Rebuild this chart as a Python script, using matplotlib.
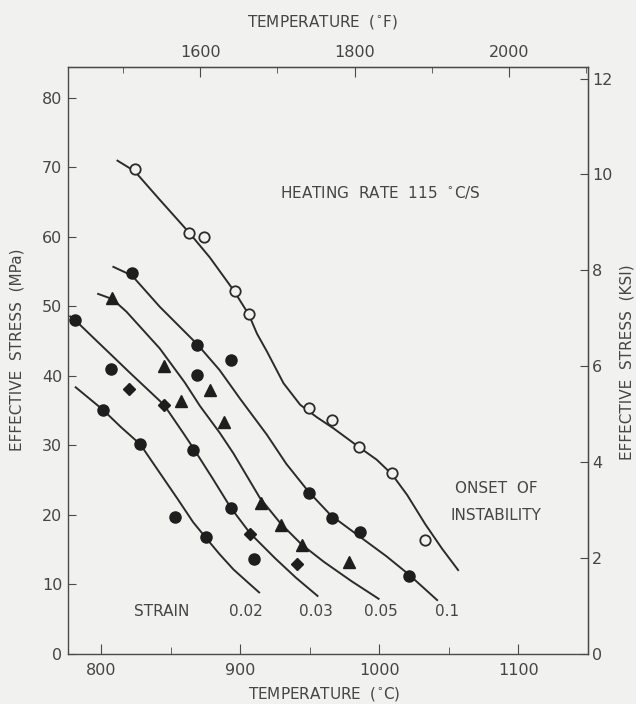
import numpy as np
import matplotlib
matplotlib.use("Agg")
import matplotlib.pyplot as plt

# fitted curves (temperature in C, effective stress in MPa)
onset_t = [811, 824, 842, 863, 878, 895, 906, 912, 919, 931, 943, 955, 967, 986, 998, 1009, 1020, 1033, 1045, 1057]
onset_s = [71.0, 69.4, 65.3, 60.6, 57.0, 52.3, 48.8, 46.0, 43.5, 38.9, 35.8, 34.0, 32.4, 29.6, 27.9, 25.8, 22.8, 18.6, 15.1, 11.9]

strain_01_t = [808, 822, 842, 869, 885, 900, 919, 933, 949, 965, 986, 1005, 1021, 1042]
strain_01_s = [55.7, 54.4, 49.9, 44.5, 40.8, 36.6, 31.5, 27.3, 23.3, 19.9, 16.8, 14.0, 11.4, 7.6]

strain_005_t = [797, 808, 818, 842, 860, 871, 885, 895, 914, 929, 944, 960, 980, 1000]
strain_005_s = [51.8, 51.0, 49.2, 43.9, 39.0, 35.6, 31.8, 28.8, 22.4, 18.7, 15.7, 13.2, 10.4, 7.8]

strain_003_t = [777, 781, 795, 807, 820, 845, 859, 866, 880, 893, 907, 925, 940, 956]
strain_003_s = [48.6, 48.0, 45.3, 43.0, 40.5, 35.8, 31.7, 29.6, 25.2, 21.0, 17.3, 13.7, 10.9, 8.2]

strain_002_t = [781, 801, 814, 828, 842, 855, 866, 875, 885, 895, 905, 914]
strain_002_s = [38.4, 35.1, 32.6, 30.1, 26.0, 22.2, 18.9, 16.7, 14.3, 12.1, 10.3, 8.7]

# measured points
open_t = [824, 863, 874, 896, 906, 949, 966, 985, 1009, 1033]
open_s = [69.7, 60.5, 59.9, 52.2, 48.9, 35.4, 33.6, 29.7, 26.0, 16.4]

dot_t = [781, 801, 807, 822, 828, 853, 866, 869, 869, 875, 893, 893, 910, 949, 966, 986, 1021]
dot_s = [48.0, 35.1, 41.0, 54.7, 30.1, 19.7, 29.3, 44.4, 40.1, 16.7, 20.9, 42.2, 13.6, 23.1, 19.5, 17.5, 11.2]

tri_t = [808, 845, 857, 878, 888, 915, 929, 944, 978]
tri_s = [51.1, 41.4, 36.3, 37.9, 33.3, 21.7, 18.5, 15.6, 13.2]

dia_t = [820, 845, 907, 941]
dia_s = [38.1, 35.8, 17.2, 12.9]

strain_labels = ["0.02", "0.03", "0.05", "0.1"]
strain_label_t = [904, 954, 1001, 1049]

ink = "#2b2b2b"
text_c = "#454545"
bg = "#f1f1ef"

plt.rcParams["font.family"] = ["DejaVu Sans"]
plt.rcParams["font.size"] = 11

fig = plt.figure(figsize=(6.36, 7.04), dpi=100, facecolor=bg)
ax = fig.add_axes([0.1069, 0.0717, 0.8176, 0.8331], facecolor=bg)

for t, s in [(onset_t, onset_s), (strain_01_t, strain_01_s), (strain_005_t, strain_005_s),
             (strain_003_t, strain_003_s), (strain_002_t, strain_002_s)]:
    ax.plot(t, s, color=ink, lw=1.4, solid_capstyle="butt", solid_joinstyle="round")

ax.plot(open_t, open_s, "o", ms=7.5, mfc=bg, mec=ink, mew=1.3, ls="none")
ax.plot(dot_t, dot_s, "o", ms=8, color="#1e1e1e", ls="none")
ax.plot(tri_t, tri_s, "^", ms=8, color="#1e1e1e", ls="none")
ax.plot(dia_t, dia_s, "D", ms=6.5, color="#1e1e1e", ls="none")

ax.set_xlim(776, 1150)
ax.set_ylim(0, 84.4)
ax.set_xticks([800, 900, 1000, 1100])
ax.set_xticks([850, 950, 1050], minor=True)
ax.set_yticks(range(0, 81, 10))

for side in ax.spines.values():
    side.set_color("#4a4a4a")
    side.set_linewidth(1.0)

ax.tick_params(axis="x", which="both", direction="in", bottom=True, top=False,
               colors="#4a4a4a", labelcolor=text_c, labelsize=11.5, pad=7)
ax.tick_params(axis="x", which="major", length=7)
ax.tick_params(axis="x", which="minor", length=5)
ax.tick_params(axis="y", direction="in", length=6, colors="#4a4a4a",
               labelcolor=text_c, labelsize=11.5, pad=4)

# Fahrenheit scale on top
top = ax.secondary_xaxis("top", functions=(lambda c: c * 9 / 5 + 32, lambda f: (f - 32) * 5 / 9))
top.set_xticks([1600, 1800, 2000])
top.set_xticks([1500, 1700, 1900, 2100], minor=True)
top.tick_params(which="both", direction="in", colors="#4a4a4a", labelcolor=text_c,
                labelsize=11.5, pad=5)
top.tick_params(which="major", length=7)
top.tick_params(which="minor", length=4)

# ksi scale on the right
right = ax.secondary_yaxis("right", functions=(lambda m: m / 6.894757, lambda k: k * 6.894757))
right.set_yticks(range(0, 13, 2))
right.tick_params(direction="in", length=6, colors="#4a4a4a", labelcolor=text_c,
                  labelsize=11.5, pad=3)

ax.text(1001, 66.4, "HEATING  RATE  115  $^{\\circ}$C/S", ha="center", va="center",
        color=text_c, fontsize=11)
ax.text(1084, 23.8, "ONSET  OF", ha="center", va="center", color=text_c, fontsize=11)
ax.text(1084, 19.8, "INSTABILITY", ha="center", va="center", color=text_c, fontsize=11)
ax.text(843.5, 6.0, "STRAIN", ha="center", va="center", color=text_c, fontsize=11)
for lab, t in zip(strain_labels, strain_label_t):
    ax.text(t, 6.0, lab, ha="center", va="center", color=text_c, fontsize=11)

fig.text(322 / 636, 1 - 22 / 704, "TEMPERATURE  ($^{\\circ}$F)", ha="center", va="center",
         color=text_c, fontsize=11)
fig.text(324 / 636, 1 - 694 / 704, "TEMPERATURE  ($^{\\circ}$C)", ha="center", va="center",
         color=text_c, fontsize=11)
fig.text(17 / 636, 1 - 350 / 704, "EFFECTIVE  STRESS  (MPa)", rotation=90, ha="center",
         va="center", color=text_c, fontsize=11)
fig.text(627 / 636, 1 - 362 / 704, "EFFECTIVE  STRESS  (KSI)", rotation=90, ha="center",
         va="center", color=text_c, fontsize=11)

fig.savefig("out.png", dpi=100, facecolor=bg)
